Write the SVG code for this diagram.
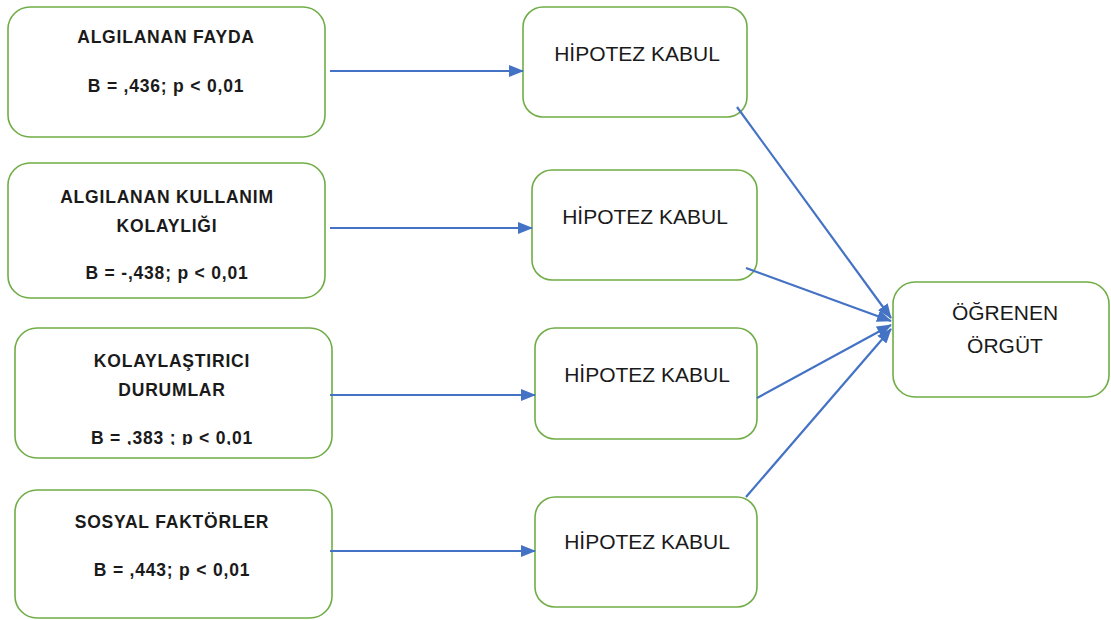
<svg xmlns="http://www.w3.org/2000/svg" width="1111" height="620" viewBox="0 0 1111 620">
<style>
.box{fill:#ffffff;stroke:#70AD47;stroke-width:1.6}
.lbl{font-family:"Liberation Sans",Arial,sans-serif;font-weight:bold;font-size:17.5px;letter-spacing:0.8px;fill:#1a1a1a;text-anchor:middle}
.hyp{font-family:"Liberation Sans",Arial,sans-serif;font-size:21px;fill:#1a1a1a;text-anchor:middle}
.con{stroke:#4472C4;stroke-width:2.2;fill:none}
</style>
<defs>
<marker id="arr" markerUnits="userSpaceOnUse" markerWidth="15" markerHeight="12" refX="14" refY="6" orient="auto">
<path d="M0,0 L15,6 L0,12 Z" fill="#4472C4"/>
</marker>
<clipPath id="clip3"><rect x="0" y="420" width="340" height="25"/></clipPath>
</defs>
<rect width="1111" height="620" fill="#ffffff"/>

<g id="n1">
<rect class="box" x="8" y="7" width="317" height="130" rx="22"/>
<text class="lbl" x="166" y="43">ALGILANAN FAYDA</text>
<text class="lbl" x="166" y="92">B = ,436; p &lt; 0,01</text>
</g>
<g id="n2">
<rect class="box" x="8" y="163" width="317" height="135" rx="22"/>
<text class="lbl" x="167" y="203">ALGILANAN KULLANIM</text>
<text class="lbl" x="167" y="232">KOLAYLIĞI</text>
<text class="lbl" x="167" y="279">B = -,438; p &lt; 0,01</text>
</g>
<g id="n3">
<rect class="box" x="15" y="328" width="317" height="130" rx="22"/>
<text class="lbl" x="172" y="367">KOLAYLAŞTIRICI</text>
<text class="lbl" x="172" y="396">DURUMLAR</text>
<text class="lbl" x="172" y="444" clip-path="url(#clip3)">B = ,383 ; p &lt; 0,01</text>
</g>
<g id="n4">
<rect class="box" x="15" y="490" width="317" height="128" rx="22"/>
<text class="lbl" x="172" y="528">SOSYAL FAKTÖRLER</text>
<text class="lbl" x="172" y="576">B = ,443; p &lt; 0,01</text>
</g>

<g id="h1">
<rect class="box" x="523" y="7" width="224" height="110" rx="20"/>
<text class="hyp" x="637" y="61">HİPOTEZ KABUL</text>
</g>
<g id="h2">
<rect class="box" x="532" y="170" width="225" height="110" rx="20"/>
<text class="hyp" x="645" y="224">HİPOTEZ KABUL</text>
</g>
<g id="h3">
<rect class="box" x="535" y="328" width="222" height="111" rx="20"/>
<text class="hyp" x="647" y="382">HİPOTEZ KABUL</text>
</g>
<g id="h4">
<rect class="box" x="535" y="497" width="222" height="110" rx="20"/>
<text class="hyp" x="647" y="549">HİPOTEZ KABUL</text>
</g>

<g id="out">
<rect class="box" x="893" y="282" width="216" height="115" rx="22"/>
<text class="hyp" x="1005" y="320">ÖĞRENEN</text>
<text class="hyp" x="1005" y="353">ÖRGÜT</text>
</g>

<g id="connectors">
<line class="con" x1="330" y1="71" x2="523" y2="71" marker-end="url(#arr)"/>
<line class="con" x1="330" y1="228" x2="532" y2="228" marker-end="url(#arr)"/>
<line class="con" x1="330" y1="395" x2="535" y2="395" marker-end="url(#arr)"/>
<line class="con" x1="330" y1="551" x2="535" y2="551" marker-end="url(#arr)"/>
<line class="con" x1="737" y1="107" x2="891" y2="318" marker-end="url(#arr)"/>
<line class="con" x1="746" y1="268" x2="891" y2="321" marker-end="url(#arr)"/>
<line class="con" x1="757" y1="398" x2="891" y2="325" marker-end="url(#arr)"/>
<line class="con" x1="746" y1="497" x2="891" y2="329" marker-end="url(#arr)"/>
</g>
</svg>
